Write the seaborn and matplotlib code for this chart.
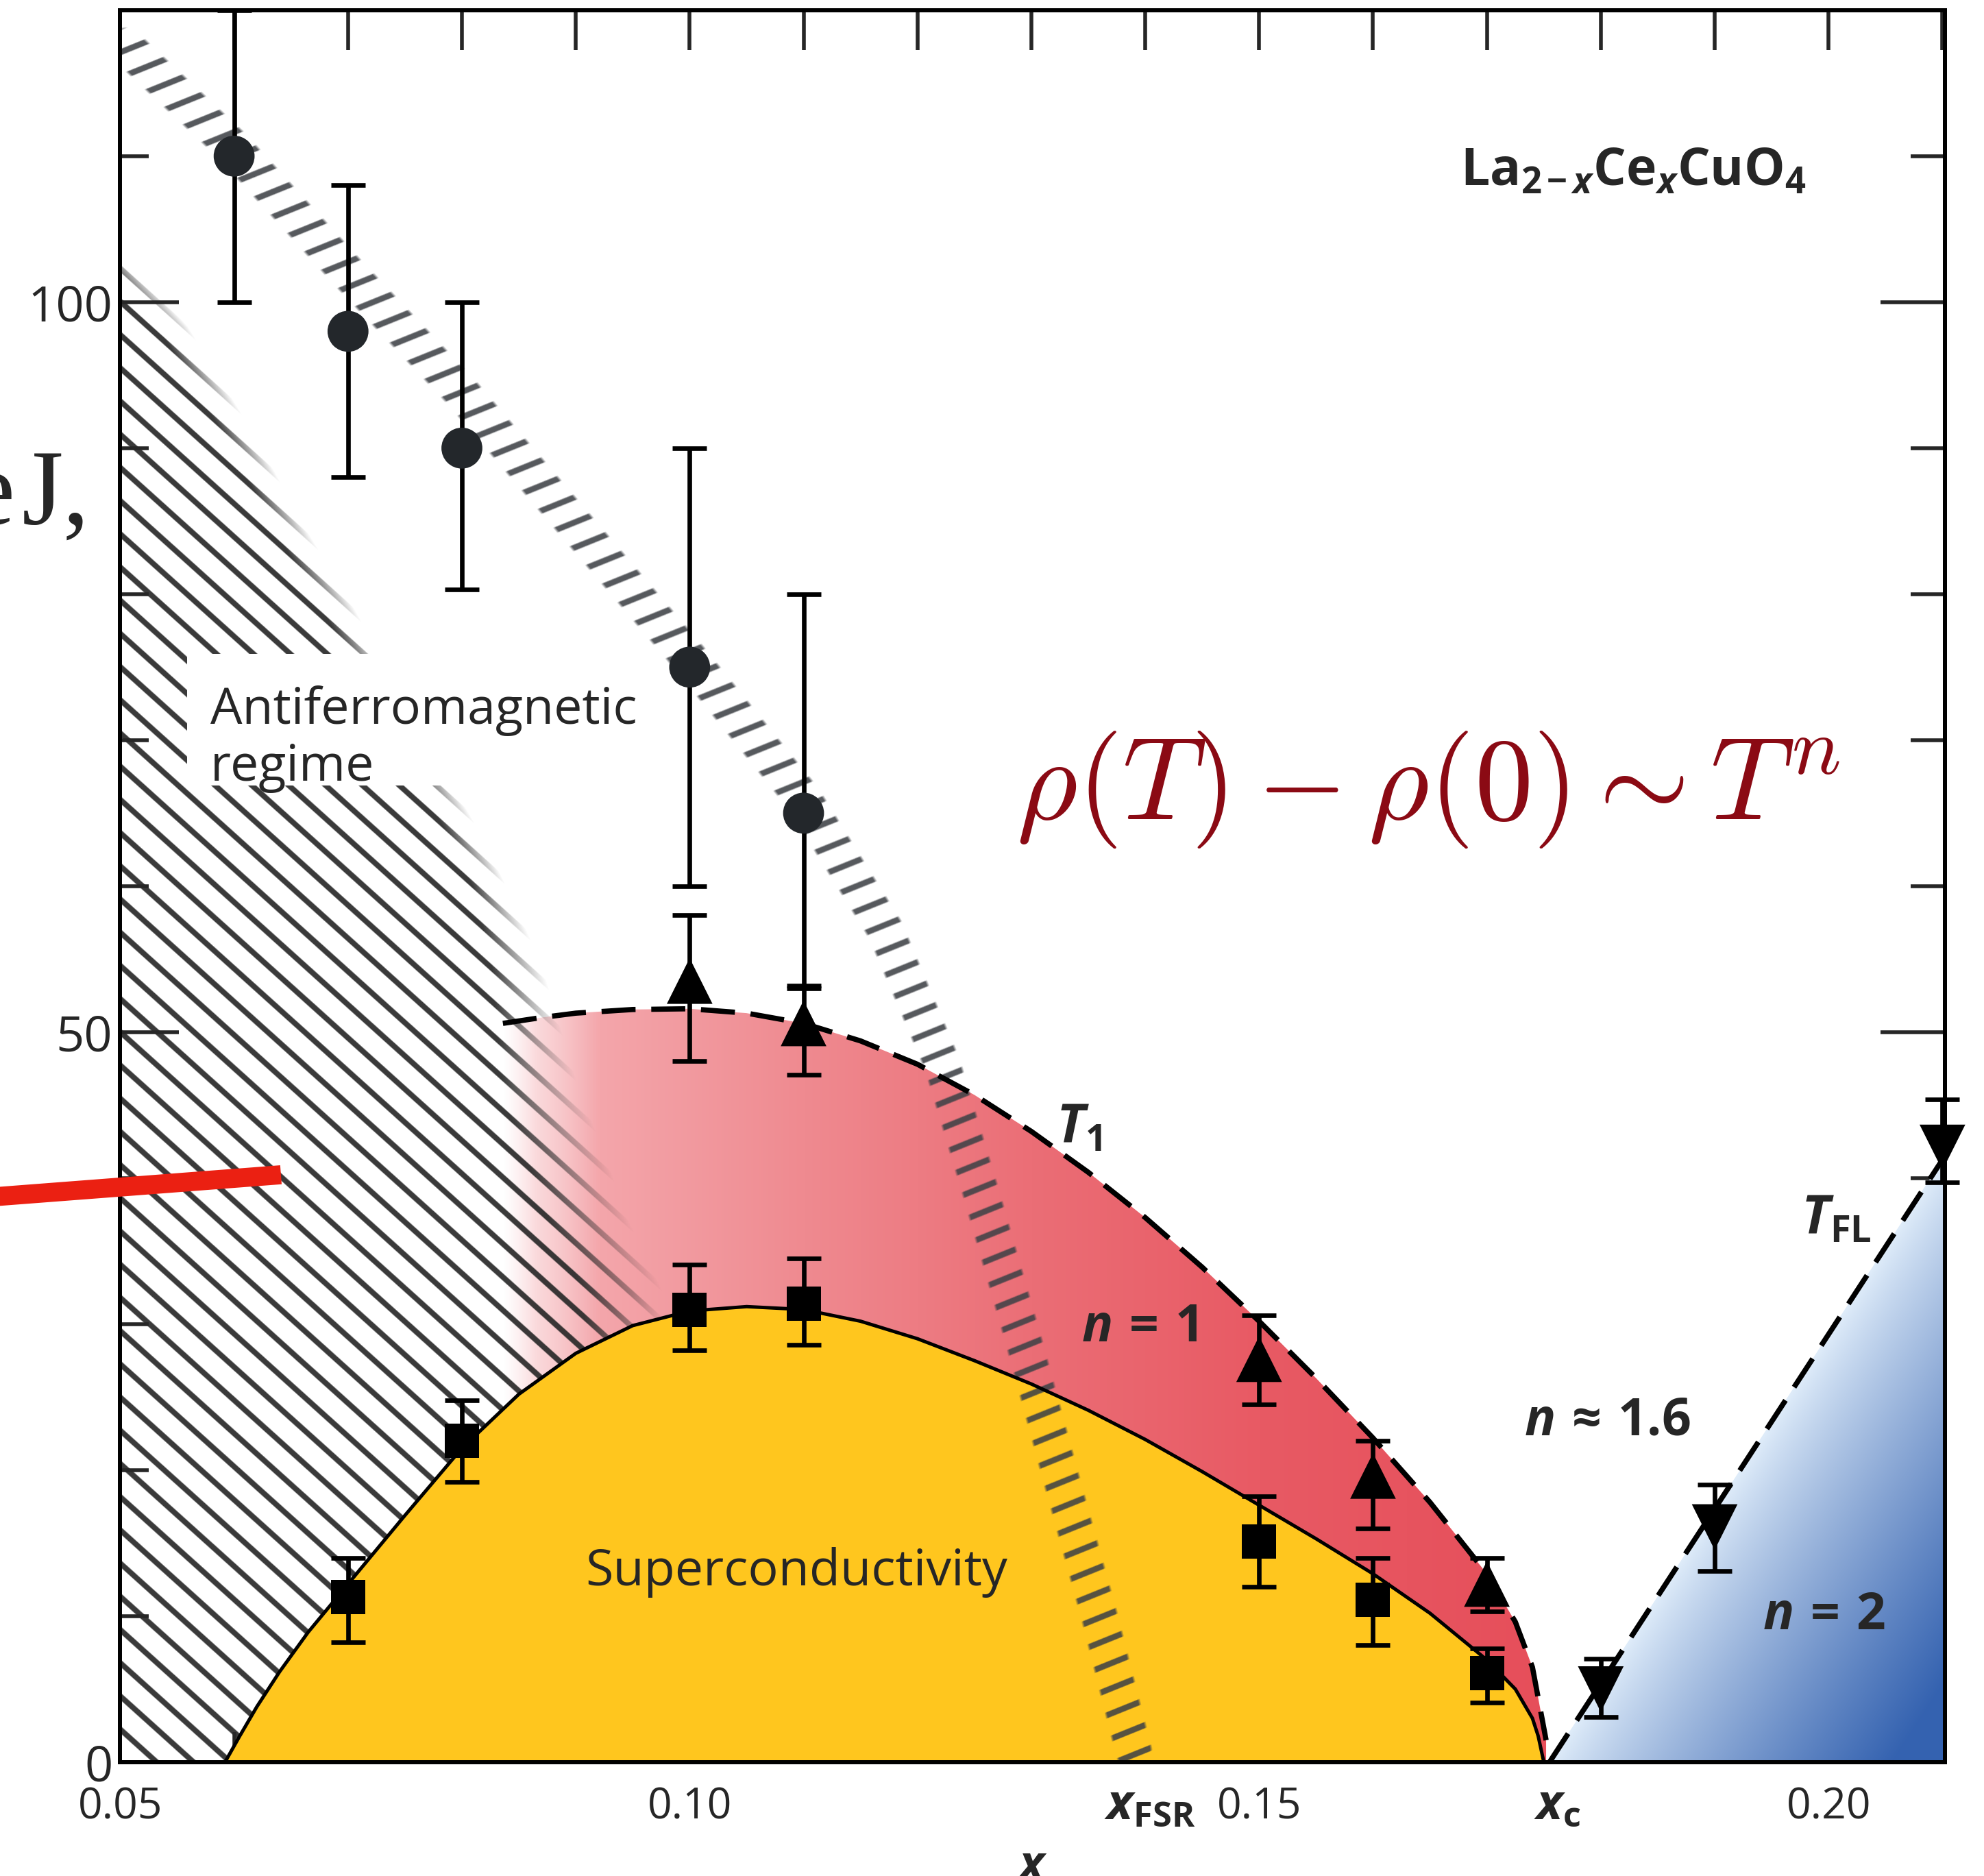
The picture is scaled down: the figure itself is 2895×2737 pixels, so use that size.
import numpy as np
import seaborn as sns
import matplotlib.pyplot as plt
import matplotlib.transforms as mtransforms
from matplotlib.patches import Polygon, Rectangle
from matplotlib.lines import Line2D
from matplotlib.ticker import MultipleLocator, FixedLocator

# ---------------- data ----------------
# circles (upper scale, grey band)
circ_x = [0.06, 0.07, 0.08, 0.10, 0.11]
circ_y = [110.0, 98.0, 90.0, 75.0, 65.0]
circ_lo = [100.0, 88.0, 80.3, 60.0, 53.0]
circ_hi = [120.0, 108.0, 100.0, 90.0, 80.0]

# up triangles: T1
t1_x = [0.10, 0.11, 0.15, 0.16, 0.17]
t1_y = [53.5, 50.6, 27.6, 19.6, 12.2]
t1_lo = [48.0, 47.1, 24.5, 16.0, 10.3]
t1_hi = [58.0, 53.2, 30.6, 22.0, 14.0]

# squares: Tc
tc_x = [0.07, 0.08, 0.10, 0.11, 0.15, 0.16, 0.17]
tc_y = [11.3, 22.0, 31.0, 31.4, 15.1, 11.1, 6.1]
tc_lo = [8.2, 19.2, 28.2, 28.6, 12.0, 8.0, 4.1]
tc_hi = [14.0, 24.8, 34.1, 34.5, 18.2, 14.0, 7.8]

# down triangles: T_FL
tfl_x = [0.18, 0.19, 0.21]
tfl_y = [5.0, 16.1, 42.1]
tfl_lo = [3.1, 13.1, 39.7]
tfl_hi = [7.1, 19.0, 45.4]

# guide curves
tc_curve_x = [0.0592, 0.0605, 0.062, 0.064, 0.0665, 0.070, 0.075, 0.080, 0.085, 0.090,
              0.095, 0.100, 0.105, 0.110, 0.115, 0.120, 0.125, 0.130, 0.135, 0.140,
              0.145, 0.150, 0.155, 0.160, 0.165, 0.170, 0.1725, 0.1740, 0.1745, 0.1750]
tc_curve_y = [0.0, 1.8, 3.8, 6.2, 8.9, 12.2, 16.9, 21.5, 25.2, 28.0,
              29.9, 30.9, 31.2, 31.0, 30.2, 29.0, 27.5, 25.9, 24.1, 22.1,
              19.9, 17.6, 15.3, 12.9, 10.2, 7.0, 5.0, 3.0, 1.8, 0.0]

t1_curve_x = [0.0836, 0.087, 0.090, 0.095, 0.100, 0.105, 0.110, 0.115, 0.120, 0.125,
              0.130, 0.135, 0.140, 0.145, 0.150, 0.155, 0.160, 0.165, 0.170, 0.1725,
              0.1740, 0.1752]
t1_curve_y = [50.6, 51.0, 51.3, 51.55, 51.6, 51.3, 50.6, 49.4, 47.8, 45.7,
              43.2, 40.4, 37.3, 33.9, 30.2, 26.3, 22.2, 17.8, 12.9, 9.6,
              6.5, 1.5]

tfl_line_x = [0.1755, 0.2102]
tfl_line_y = [0.0, 41.5]

# centre line of the grey x_FSR band
fsr_x = [0.0505, 0.0598, 0.070, 0.080, 0.090, 0.100, 0.110, 0.1172, 0.1222,
         0.1256, 0.1293, 0.1328, 0.1360, 0.1390]
fsr_y = [117.5, 110.7, 102.0, 93.8, 84.7, 75.6, 66.0, 57.0, 47.8,
         39.0, 29.0, 19.0, 10.0, 0.8]

# right edge of the hatched antiferromagnetic region
af_edge_y = [0.0, 32.2, 36.9, 41.6, 46.4, 54.5, 58.8, 63.7, 71.2, 79.0, 84.0, 91.2, 98.3, 103.7]
af_edge_x = [0.0985, 0.0977, 0.0948, 0.0926, 0.0902, 0.0871, 0.0847, 0.0816, 0.0761,
             0.0706, 0.0667, 0.0616, 0.0560, 0.0500]

x_major = [0.05, 0.10, 0.15, 0.20]
x_major_labels = ['0.05', '0.10', '0.15', '0.20']
y_major = [0, 50, 100]

# ---------------- style ----------------
sns.set_theme(style='ticks')
plt.rcParams['font.family'] = ['Open Sans', 'DejaVu Sans']
plt.rcParams.update({
    'mathtext.fontset': 'custom',
    'mathtext.rm': 'Open Sans',
    'mathtext.it': 'Open Sans:italic',
    'mathtext.bf': 'Open Sans:bold',
    'mathtext.bfit': 'Open Sans:italic:bold',
    'mathtext.fallback': 'cm',
    'axes.linewidth': 4.3,
    'axes.edgecolor': 'black',
})

W_IN, H_IN, DPI = 28.95, 27.37, 100
fig = plt.figure(figsize=(W_IN, H_IN), dpi=DPI, facecolor='white')
AX_RECT = [0.0606, 0.0607, 0.9196, 0.9339]
ax = fig.add_axes(AX_RECT)
ax.set_facecolor('white')
XMIN, XMAX, YMIN, YMAX = 0.05, 0.2102, 0.0, 120.0
AXW = AX_RECT[2] * W_IN * DPI
AXH = AX_RECT[3] * H_IN * DPI


def pixel_grid(x0, x1, y0, y1, step=1.0):
    px0 = (x0 - XMIN) / (XMAX - XMIN) * AXW
    px1 = (x1 - XMIN) / (XMAX - XMIN) * AXW
    py0 = (y0 - YMIN) / (YMAX - YMIN) * AXH
    py1 = (y1 - YMIN) / (YMAX - YMIN) * AXH
    px = np.arange(px0, px1, step, dtype=np.float32) + step / 2
    py = np.arange(py0, py1, step, dtype=np.float32) + step / 2
    PX, PY = np.meshgrid(px, py)
    ext = [x0, XMIN + (px0 + len(px) * step) / AXW * (XMAX - XMIN),
           y0, YMIN + (py0 + len(py) * step) / AXH * (YMAX - YMIN)]
    return PX, PY, ext


def to_px(xs, ys):
    xs = np.asarray(xs, dtype=np.float32)
    ys = np.asarray(ys, dtype=np.float32)
    return (xs - XMIN) / (XMAX - XMIN) * AXW, (ys - YMIN) / (YMAX - YMIN) * AXH


def stripes(PX, PY, angle, period, half):
    a = np.deg2rad(angle)
    s = -PX * np.sin(a) + PY * np.cos(a)
    f = np.mod(s / period, 1.0)
    d = np.minimum(f, 1.0 - f) * period
    return np.clip((half - d) / 1.6 + 0.5, 0, 1).astype(np.float32)


def rgba_image(shape, rgb, alpha):
    img = np.zeros(shape + (4,), dtype=np.float32)
    img[..., 0], img[..., 1], img[..., 2] = rgb
    img[..., 3] = alpha
    return img


# ---------------- pink T1 region (gradient) ----------------
pk_x = [0.0836, 0.0865, 0.092, 0.11, 0.13, 0.15, 0.176]
pk_rgb = np.array([(248, 200, 204), (247, 186, 190), (244, 166, 171), (239, 138, 144),
                   (235, 110, 118), (232, 90, 100), (230, 78, 90)]) / 255.0
pk_a = [0.0, 0.55, 1, 1, 1, 1, 1]
gx = np.linspace(0.0836, 0.176, 500)
pink = np.zeros((1, gx.size, 4))
for c in range(3):
    pink[0, :, c] = np.interp(gx, pk_x, pk_rgb[:, c])
pink[0, :, 3] = np.interp(gx, pk_x, pk_a)
pink_poly = Polygon(np.column_stack([t1_curve_x + [0.1752, 0.0836], t1_curve_y + [0.0, 0.0]]),
                    closed=True, transform=ax.transData, facecolor='none', edgecolor='none')
ax.add_patch(pink_poly)
im = ax.imshow(pink, extent=[0.0836, 0.176, 0, 53], origin='lower', aspect='auto',
               interpolation='bilinear', zorder=0.8)
im.set_clip_path(pink_poly)

# ---------------- blue T_FL region (gradient) ----------------
PX, PY, ext = pixel_grid(0.1755, XMAX, 0, 43, step=3.0)
lx, ly = to_px(tfl_line_x, tfl_line_y)
vx, vy = lx[1] - lx[0], ly[1] - ly[0]
dist = np.abs((PX - lx[0]) * vy - (PY - ly[0]) * vx) / np.hypot(vx, vy)
t = np.clip(dist / 420.0, 0, 1) ** 0.85
light = np.array([224, 237, 250]) / 255.0
dark = np.array([52, 98, 176]) / 255.0
blue = np.zeros(PX.shape + (4,), dtype=np.float32)
for c in range(3):
    blue[..., c] = light[c] * (1 - t) + dark[c] * t
blue[..., 3] = 1.0
blue_poly = Polygon(np.column_stack([tfl_line_x + [XMAX], tfl_line_y + [0.0]]), closed=True,
                    transform=ax.transData, facecolor='none', edgecolor='none')
ax.add_patch(blue_poly)
im = ax.imshow(blue, extent=ext, origin='lower', aspect='auto', interpolation='bilinear', zorder=0.8)
im.set_clip_path(blue_poly)

# ---------------- antiferromagnetic hatching ----------------
PX, PY, ext = pixel_grid(0.05, 0.1, 0, 106)
X = XMIN + PX / AXW * (XMAX - XMIN)
Y = YMIN + PY / AXH * (YMAX - YMIN)
xb = np.interp(Y, af_edge_y, af_edge_x)
fade = np.interp(Y, [0, 45, 60, 120], [0.007, 0.007, 0.003, 0.0025])
mask = np.clip((xb - X) / fade, 0, 1)
alpha = stripes(PX, PY, -42, 36.0, 4.0) * mask * 0.92
ax.imshow(rgba_image(PX.shape, (0.16, 0.16, 0.16), alpha), extent=ext, origin='lower',
          aspect='auto', interpolation='bilinear', zorder=1)
del X, Y, xb, fade, mask, alpha

# white box behind the AF label
ax.add_patch(Rectangle((0.0559, 66.9), 0.041, 9.0, facecolor='white', edgecolor='none', zorder=1.5))

# ---------------- superconducting dome ----------------
ax.fill_between(tc_curve_x, tc_curve_y, 0, color='#FFC61E', lw=0, zorder=2)

# ---------------- grey x_FSR band ----------------
PX, PY, ext = pixel_grid(0.05, 0.146, 0, 120)
cx, cy = to_px(fsr_x, fsr_y)
dmin = np.full(PX.shape, np.inf, dtype=np.float32)
for i in range(len(cx) - 1):
    sx, sy = cx[i + 1] - cx[i], cy[i + 1] - cy[i]
    tt = np.clip(((PX - cx[i]) * sx + (PY - cy[i]) * sy) / (sx * sx + sy * sy), 0, 1)
    np.minimum(dmin, np.hypot(PX - cx[i] - tt * sx, PY - cy[i] - tt * sy), out=dmin)
band = np.clip((26.0 - dmin) / 4.0 + 0.5, 0, 1)
alpha = stripes(PX, PY, 22, 34.0, 4.3) * band * 0.88
ax.imshow(rgba_image(PX.shape, (0.25, 0.26, 0.28), alpha), extent=ext, origin='lower',
          aspect='auto', interpolation='bilinear', zorder=3)
del PX, PY, dmin, band, alpha

# ---------------- guide lines ----------------
sns.lineplot(x=tc_curve_x, y=tc_curve_y, ax=ax, color='black', lw=3.6,
             sort=False, estimator=None, zorder=4)
sns.lineplot(x=t1_curve_x, y=t1_curve_y, ax=ax, color='black', lw=5.5,
             sort=False, estimator=None, zorder=4)
ax.lines[-1].set_dashes([6.5, 3.0])
sns.lineplot(x=tfl_line_x, y=tfl_line_y, ax=ax, color='black', lw=5.5,
             sort=False, estimator=None, zorder=4)
ax.lines[-1].set_dashes([6.5, 3.0])

# ---------------- data points ----------------
series = [
    (circ_x, circ_y, circ_lo, circ_hi, 'o', 43 ** 2, '#23272b'),
    (t1_x, t1_y, t1_lo, t1_hi, '^', 48 ** 2, 'black'),
    (tc_x, tc_y, tc_lo, tc_hi, 's', 36 ** 2, 'black'),
    (tfl_x, tfl_y, tfl_lo, tfl_hi, 'v', 48 ** 2, 'black'),
]
for xs, ys, lo, hi, mk, size, col in series:
    ys_a = np.array(ys)
    eb = ax.errorbar(xs, ys, yerr=[ys_a - np.array(lo), np.array(hi) - ys_a], fmt='none',
                     ecolor='black', elinewidth=4.8, capsize=18, capthick=4.8, zorder=5)
    for art in list(eb.lines[1]) + list(eb.lines[2]):
        art.set_clip_on(False)
    sns.scatterplot(x=xs, y=ys, ax=ax, marker=mk, s=size, color=col, edgecolor='none',
                    linewidth=0, zorder=6, clip_on=False, legend=False)

# ---------------- axes & ticks ----------------
ax.set_xlim(XMIN, XMAX)
ax.set_ylim(YMIN, YMAX)
ax.xaxis.set_major_locator(FixedLocator(x_major))
ax.set_xticklabels(x_major_labels)
ax.xaxis.set_minor_locator(MultipleLocator(0.01))
ax.yaxis.set_major_locator(FixedLocator(y_major))
ax.yaxis.set_minor_locator(MultipleLocator(10))
ax.tick_params(axis='x', which='major', direction='in', length=62, width=4, pad=25, labelsize=45)
ax.tick_params(axis='x', which='minor', direction='in', length=32, width=4)
ax.tick_params(axis='y', which='major', direction='in', length=62, width=4, pad=8, labelsize=52)
ax.tick_params(axis='y', which='minor', direction='in', length=30, width=4)
ax.tick_params(top=False, right=False)
ax.set_xlabel('')
ax.set_ylabel('')
for sp in ax.spines.values():
    sp.set_linewidth(4.3)
    sp.set_zorder(5.5)

sec_x = ax.secondary_xaxis('top')
sec_x.xaxis.set_major_locator(MultipleLocator(0.01))
sec_x.tick_params(direction='in', length=42, width=4, labeltop=False)
sec_x.spines['top'].set_linewidth(4.3)

sec_y = ax.secondary_yaxis('right')
sec_y.yaxis.set_major_locator(FixedLocator([50, 100]))
sec_y.yaxis.set_minor_locator(MultipleLocator(10))
sec_y.tick_params(which='major', direction='in', length=68, width=4, labelright=False)
sec_y.tick_params(which='minor', direction='in', length=36, width=4)
sec_y.spines['right'].set_linewidth(4.3)

# ---------------- text ----------------
bx = mtransforms.blended_transform_factory(ax.transData, ax.transAxes)
ax.text(0.1404, -0.0325, r'$\mathbfit{x}_{\mathbf{FSR}}$', transform=bx, ha='center',
        va='baseline', fontsize=52)
ax.text(0.1762, -0.0325, r'$\mathbfit{x}_{\mathbf{c}}$', transform=bx, ha='center',
        va='baseline', fontsize=52)
fig.text(815 / 1568, -0.002, 'x', fontsize=50, fontweight='bold', fontstyle='italic',
         ha='center', va='baseline')

ax.text(0.0579, 71.1, 'Antiferromagnetic', fontsize=53, va='baseline', zorder=7)
ax.text(0.0579, 67.2, 'regime', fontsize=53, va='baseline', zorder=7)
ax.text(0.1094, 12.1, 'Superconductivity', fontsize=53, ha='center', va='baseline', zorder=7)

ax.text(0.1677, 108.0, r'$\mathbf{La}_{\mathbf{2}\,\mathbf{-}\,\mathbfit{x}}\mathbf{Ce}_{\mathbfit{x}}'
        r'\mathbf{CuO}_{\mathbf{4}}$', fontsize=54, va='baseline', zorder=7)
ax.text(0.1287, 64.6, r'$\rho(T) - \rho(0) \sim T^n$', math_fontfamily='cm', fontsize=123,
        color='#8B0A14', va='baseline', zorder=7)

ax.text(0.1322, 42.4, r'$\mathbfit{T}_{\mathbf{1}}$', fontsize=56, va='baseline', zorder=7)
ax.text(0.1976, 36.2, r'$\mathbfit{T}_{\mathbf{FL}}$', fontsize=56, va='baseline', zorder=7)
ax.text(0.1344, 28.8, r'$\mathbfit{n}\,\mathbf{=}\,\mathbf{1}$', fontsize=54, va='baseline', zorder=7)
ax.text(0.1733, 22.4, r'$\mathbfit{n}\,\mathbf{\approx}\,\mathbf{1.6}$', fontsize=54,
        va='baseline', zorder=7)
ax.text(0.1942, 9.1, r'$\mathbfit{n}\,\mathbf{=}\,\mathbf{2}$', fontsize=54, va='baseline', zorder=7)

# fragments of the surrounding slide
fig.text(0.0077, 0.721, 'the', family='Liberation Serif', fontsize=112, ha='right', va='baseline')
fig.text(0.0108, 0.721, 'J,', family='Liberation Serif', fontsize=112, ha='left', va='baseline')
fig.text(0.0024, 0.5398, 'C', family='Liberation Serif', fontsize=100, ha='right', va='center')
fig.add_artist(Line2D([-0.01, 0.1416], [0.3615, 0.3738], transform=fig.transFigure,
                      color='#EB2012', lw=20, solid_capstyle='butt', zorder=10))

fig.savefig('out.png', dpi=DPI, facecolor='white')
